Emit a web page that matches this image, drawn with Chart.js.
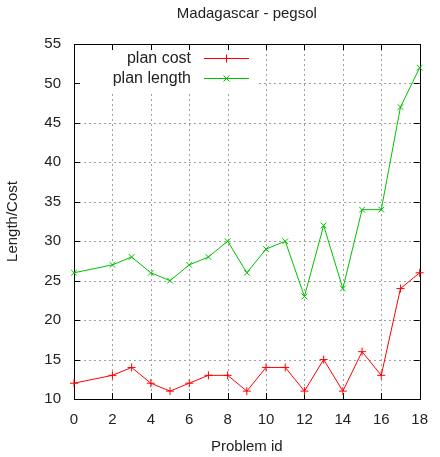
<!DOCTYPE html>
<html>
<head>
<meta charset="utf-8">
<script src="https://cdn.jsdelivr.net/npm/chart.js@4"></script>
<style>
html,body{margin:0;padding:0;background:#fff;}
#wrap{width:440px;height:457px;}
</style>
</head>
<body>
<div id="wrap"><canvas id="c" width="440" height="457"></canvas></div>
<script>
const chartTitle = "Madagascar - pegsol";
const xTitle = "Problem id";
const yTitle = "Length/Cost";
const problemIds = [0, 2, 3, 4, 5, 6, 7, 8, 9, 10, 11, 12, 13, 14, 15, 16, 17, 18];
const planCost   = [12, 13, 14, 12, 11, 12, 13, 13, 11, 14, 14, 11, 15, 11, 16, 13, 24, 26];
const planLength = [26, 27, 28, 26, 25, 27, 28, 30, 26, 29, 30, 23, 32, 24, 34, 34, 47, 52];
const seriesNames = ["plan cost", "plan length"];
const seriesColors = ["#ff0000", "#00c000"];
const seriesMarkers = ["cross", "crossRot"];

const FONT = "'Liberation Sans', Arial, sans-serif";

function pts(vals){ return problemIds.map((x,i)=>({x:x, y:vals[i]})); }

const framePlugin = {
  id: 'frame',
  beforeDatasetsDraw(chart){
    const {ctx, chartArea:a, scales:{x, y}} = chart;
    ctx.save();
    // dotted grid
    ctx.strokeStyle = '#a0a0a0';
    ctx.lineWidth = 1;
    ctx.setLineDash([2,3]);
    x.ticks.forEach(t=>{
      if (t.value <= x.min || t.value >= x.max) return;
      const px = Math.round(x.getPixelForValue(t.value)) + 0.5;
      ctx.beginPath(); ctx.moveTo(px, a.top); ctx.lineTo(px, a.bottom); ctx.stroke();
    });
    y.ticks.forEach(t=>{
      if (t.value <= y.min || t.value >= y.max) return;
      const py = Math.round(y.getPixelForValue(t.value)) + 0.5;
      ctx.beginPath(); ctx.moveTo(a.left, py); ctx.lineTo(a.right, py); ctx.stroke();
    });
    ctx.setLineDash([]);
    // legend box (white background)
    ctx.fillStyle = '#fff';
    ctx.fillRect(a.left + 1, a.top + 1, 183, 46);
    // inward ticks
    ctx.strokeStyle = '#000';
    const L = 6;
    x.ticks.forEach(t=>{
      const px = Math.round(x.getPixelForValue(t.value)) + 0.5;
      ctx.beginPath();
      ctx.moveTo(px, a.bottom); ctx.lineTo(px, a.bottom - L);
      ctx.moveTo(px, a.top); ctx.lineTo(px, a.top + L);
      ctx.stroke();
    });
    y.ticks.forEach(t=>{
      const py = Math.round(y.getPixelForValue(t.value)) + 0.5;
      ctx.beginPath();
      ctx.moveTo(a.left, py); ctx.lineTo(a.left + L, py);
      ctx.moveTo(a.right, py); ctx.lineTo(a.right - L, py);
      ctx.stroke();
    });
    // border
    ctx.strokeRect(Math.round(a.left)+0.5, Math.round(a.top)+0.5, Math.round(a.right-a.left), Math.round(a.bottom-a.top));
    // legend entries
    ctx.font = "16px " + FONT;
    ctx.textAlign = 'right';
    ctx.textBaseline = 'middle';
    chart.data.datasets.forEach((ds, i)=>{
      const yy = a.top + 14.5 + i*20;
      ctx.fillStyle = '#222';
      ctx.fillText(ds.label, a.left + 117, yy);
      ctx.strokeStyle = ds.borderColor;
      ctx.lineWidth = 1;
      ctx.beginPath(); ctx.moveTo(a.left + 130, yy); ctx.lineTo(a.left + 175, yy); ctx.stroke();
      const cx = a.left + 152.5, r = 4;
      ctx.beginPath();
      if (ds.pointStyle === 'cross') {
        ctx.moveTo(cx, yy - r); ctx.lineTo(cx, yy + r);
        ctx.moveTo(cx - r, yy); ctx.lineTo(cx + r, yy);
      } else {
        const d = r*0.75;
        ctx.moveTo(cx-d, yy-d); ctx.lineTo(cx+d, yy+d);
        ctx.moveTo(cx-d, yy+d); ctx.lineTo(cx+d, yy-d);
      }
      ctx.stroke();
    });
    ctx.restore();
  }
};

new Chart(document.getElementById('c'), {
  type: 'line',
  data: {
    datasets: [0,1].map(i=>({
      label: seriesNames[i],
      data: pts(i===0 ? planCost : planLength),
      borderColor: seriesColors[i],
      backgroundColor: seriesColors[i],
      borderWidth: 1,
      pointStyle: seriesMarkers[i],
      pointRadius: 4,
      pointBorderWidth: 1,
      pointHoverRadius: 4,
      tension: 0,
      fill: false
    }))
  },
  options: {
    responsive: false,
    animation: false,
    events: [],
    clip: false,
    layout: { padding: { left: 0, right: 9, top: 0, bottom: 0 } },
    plugins: {
      legend: { display: false },
      tooltip: { enabled: false },
      title: {
        display: true,
        text: chartTitle,
        fullSize: false,
        color: '#222',
        font: { family: FONT, size: 15, weight: 'normal', lineHeight: 1.2 },
        padding: { top: 5, bottom: 21 }
      }
    },
    scales: {
      x: {
        type: 'linear', min: 0, max: 18,
        afterFit(s){ s.height = 58; },
        grid: { display: false, drawTicks: false },
        border: { display: false },
        ticks: { stepSize: 2, padding: 12, color: '#222', maxRotation: 0,
                 font: { family: FONT, size: 15 } },
        title: { display: true, text: xTitle, color: '#222',
                 font: { family: FONT, size: 15, lineHeight: 1.2 },
                 padding: { top: 0, bottom: 1 } }
      },
      y: {
        type: 'linear', min: 10, max: 55,
        afterFit(s){ s.width = 74; },
        grid: { display: false, drawTicks: false },
        border: { display: false },
        ticks: { stepSize: 5, padding: 13, color: '#222',
                 font: { family: FONT, size: 15 } },
        title: { display: true, text: yTitle, color: '#222',
                 font: { family: FONT, size: 15, lineHeight: 1.2 },
                 padding: { top: 4, bottom: 0 } }
      }
    }
  },
  plugins: [framePlugin]
});
</script>
</body>
</html>
